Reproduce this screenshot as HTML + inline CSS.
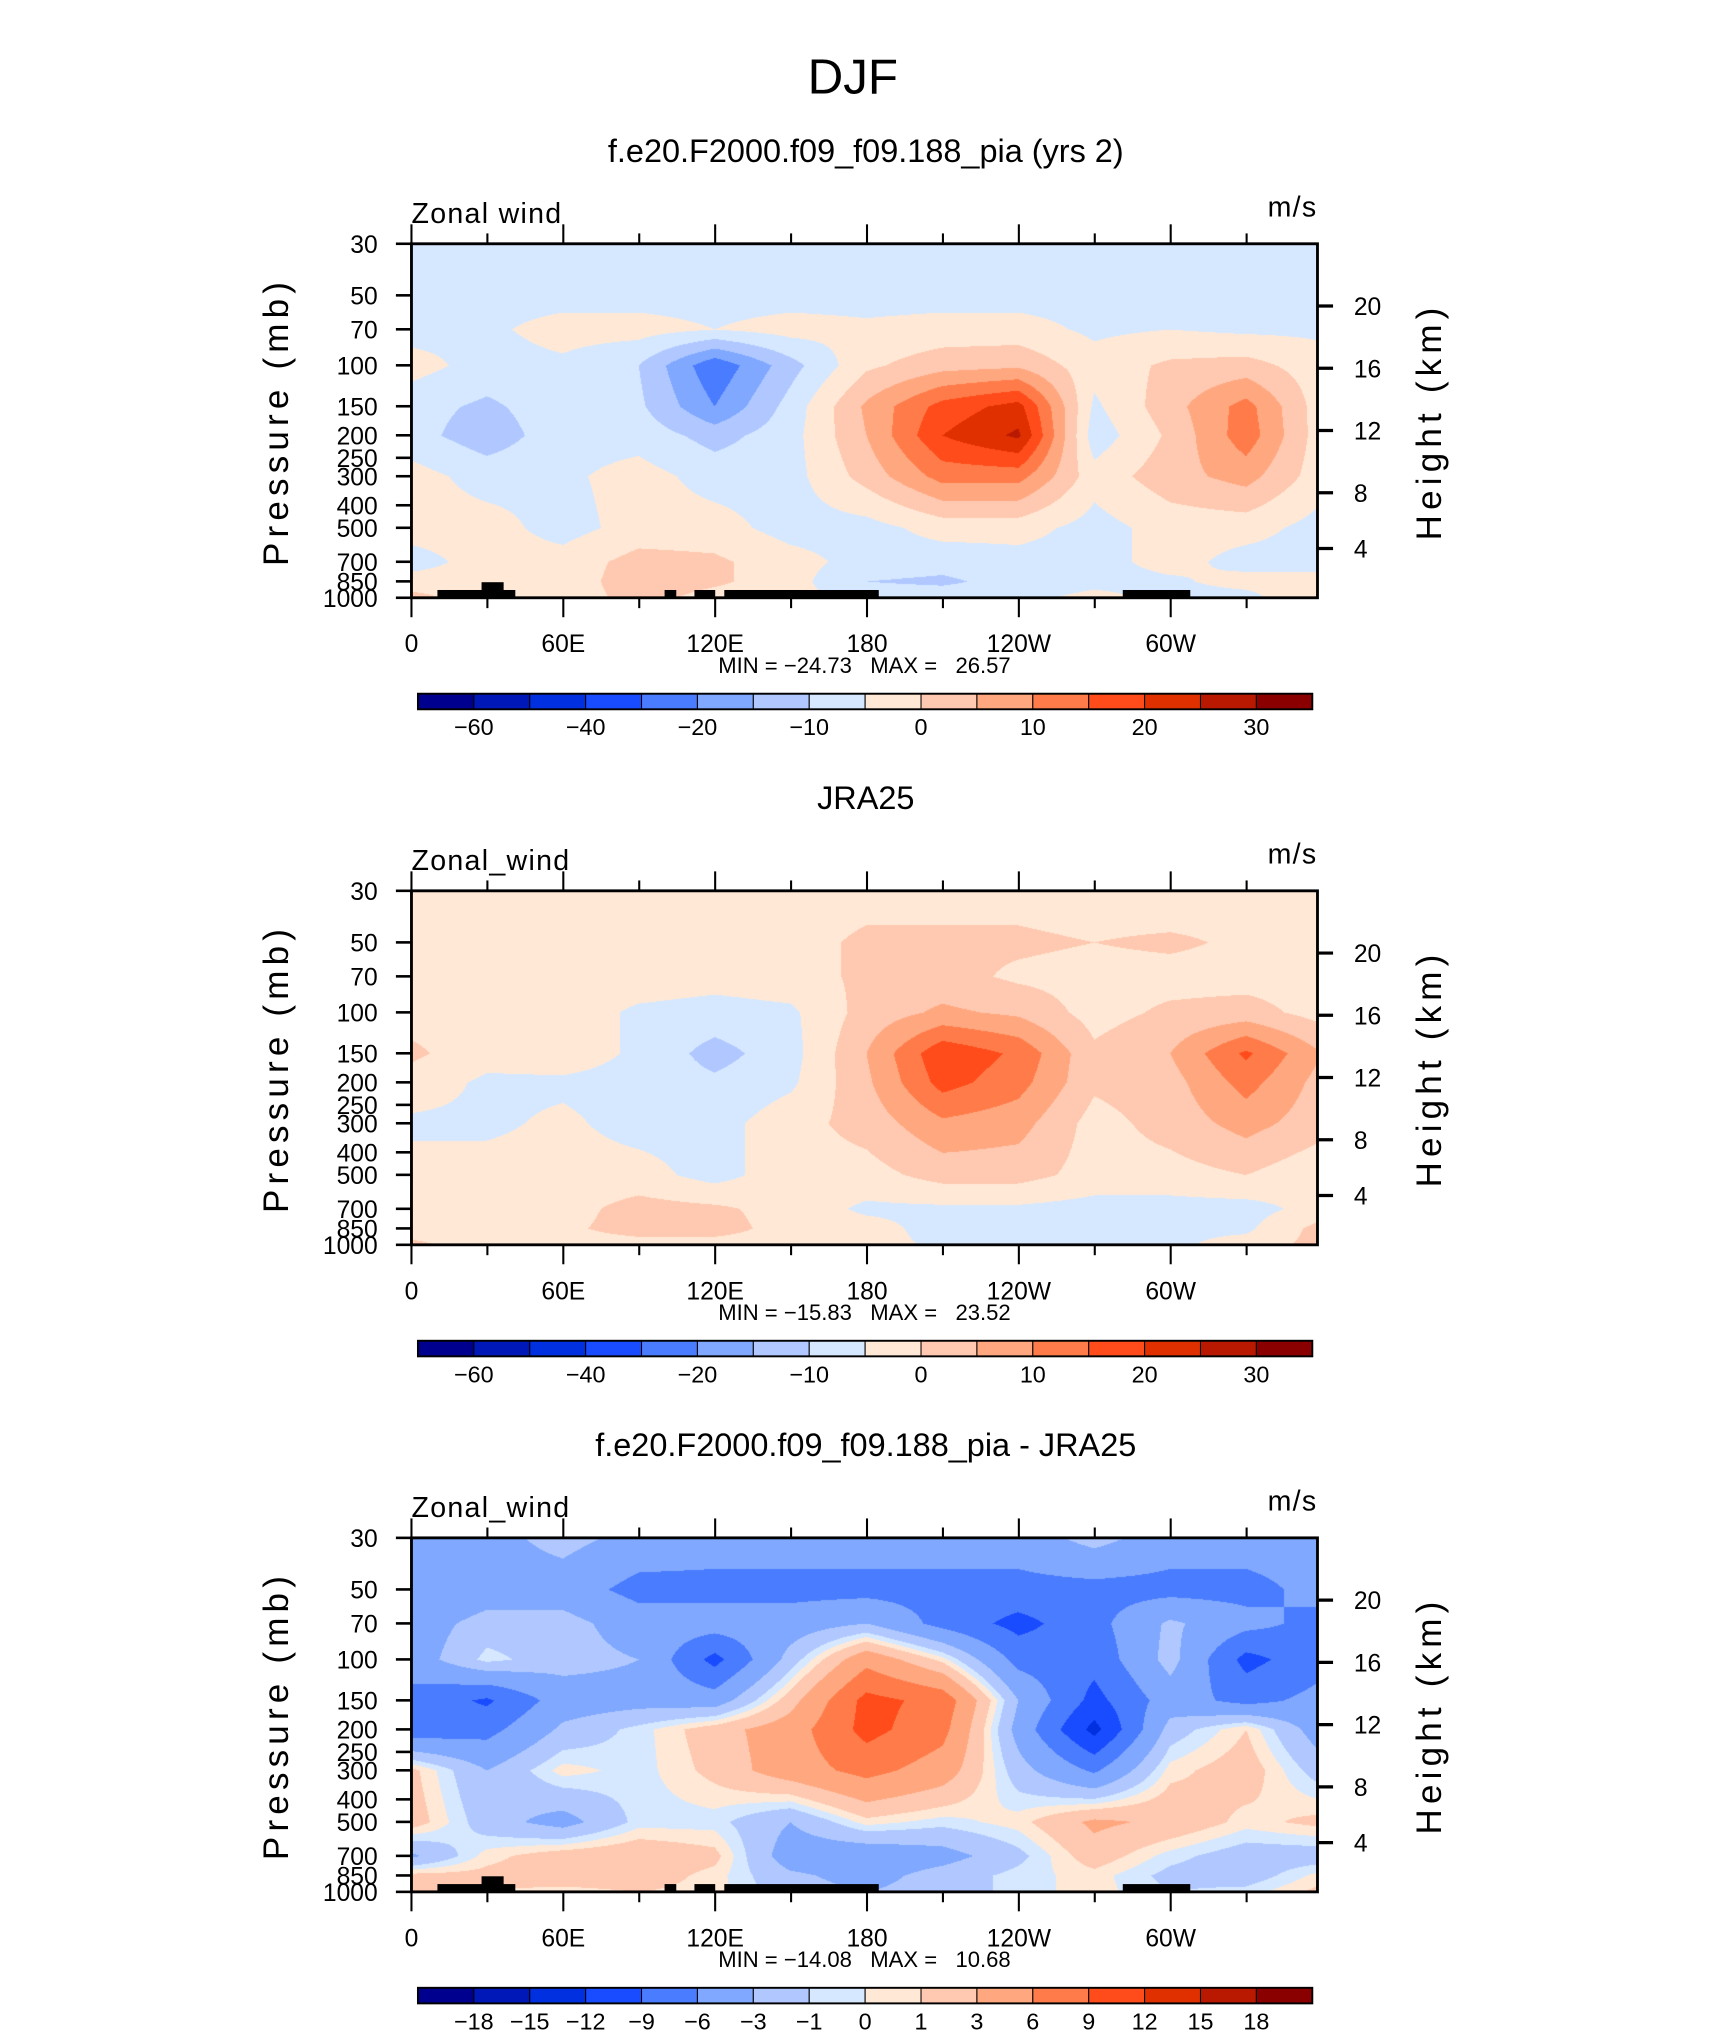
<!DOCTYPE html>
<html><head><meta charset="utf-8">
<style>
html,body{margin:0;padding:0;background:#fff;}
#root{position:relative;width:1710px;height:2038px;overflow:hidden;background:#fff;}
canvas{position:absolute;}
svg{position:absolute;left:0;top:0;}
text{font-family:"Liberation Sans Narrow","Liberation Sans",sans-serif;fill:#000;}
</style></head>
<body>
<div id="root">
<canvas id="c0"></canvas>
<canvas id="c1"></canvas>
<canvas id="c2"></canvas>
<svg id="svg" width="1710" height="2038" viewBox="0 0 1317.4 1571.7" preserveAspectRatio="none"></svg>
</div>
<script>
// ---- data ----
const lons = [0,30,60,90,120,150,180,210,240,270,300,330,360];
const pressures = [30,50,70,100,150,200,300,500,700,850,1000];
const model = [
[-7,-7,-7,-7,-7,-7,-7,-7,-7,-7,-7,-7,-7],
[-7,-7,-7,-7,-7,-7,-7,-7,-7,-7,-7,-7,-7],
[-7,-6,-3,-3,-5,-3,-4,-3,-3,-6,-5,-6,-6],
[-3,-7,-6,-10,-24,-12,-1,3,4,-3,1,2,-3],
[-8,-11,-7,-9,-20,-8,6,17,22,-6,3,12,-3],
[-8,-13,-7,-7,-12,-7,5,20,26,-8,1,13,-3],
[-3,-7,-6,-3,-7,-7,2,12,12,-3,3,7,-3],
[-3,-3,-7,-3,-3,-7,-7,-3,-3,-7,-3,-3,-7],
[-7,-3,-3,2,1,-3,-7,-8,-7,-7,-3,-7,-7],
[-3,-3,-3,3,1,-3,-10,-11,-8,-7,-6,-3,-3],
[2,-3,-3,2,-2,-3,-7,-7,-7,-3,-7,-7,1]];
const jra = [
[-2,-2,-4,-4,-4,-2,-2,-2,-2,-3,-4,-2,-2],
[-2,-2,-2,-2,-2,-2,1,1,1,0,1,-1,-2],
[-2,-2,-2,-2,-3,-2,1,2,-1,-2,-2,-2,-2],
[-2,-2,-2,-6,-7,-6,2,6,4,-2,1,2,-2],
[1,-3,-2,-6,-12,-7,5,19,14,1,5,16,5],
[-2,-6,-6,-7,-9,-6,4,17,12,1,3,12,3],
[-6,-6,-4,-7,-7,-2,2,9,7,-2,2,7,2],
[-3,-3,-3,-3,-7,-2,-2,2,2,-2,-2,0,-4],
[-2,-2,-2,2,1,-2,-6,-6,-6,-7,-7,-7,-3],
[-2,-2,-1,2,2,-2,-3,-7,-7,-6,-6,-6,2],
[1,-2,-2,-2,-2,-2,-3,-6,-6,-6,-6,-3,2]];
const diff = [
[-4.5,-4,-2,-4,-4.5,-4.5,-4.5,-4.5,-4.5,-2,-4.5,-4.5,-4.5],
[-6,-4.5,-4.5,-7,-7,-7,-7,-7,-7,-7,-7,-7,-5],
[-4.5,-2,-2,-4.5,-4.5,-4.5,-3,-7,-10,-7,-2.5,-5,-7],
[-4.5,-0.5,-2,-3,-10,-2,5,0.5,-7,-8,-2,-10,-7],
[-7,-9.5,-4.5,-4,-4.5,2,10,8,-3,-10,-4.5,-7,-5],
[-8,-7,-2.5,-0.5,2,4.5,10,7,-4,-13,-2,1,-4.5],
[1.5,-3,0.5,-0.5,1.5,4.5,7,4.5,-2,-6.5,0.5,2,-2],
[2,-2,-4,-0.5,-0.5,-3,0.5,-0.5,0.5,3.5,2.5,0.5,1.5],
[-3.5,0.5,2,2.5,1.5,-4.5,-5,-4,-1.5,2,-0.5,-2,-2],
[1.5,1.5,2,2,0.5,-2.5,-4,-2,-0.5,0.5,-1.5,-2,0.5],
[1,1,0.5,1,0.5,-2,-3,-2,-0.5,0.5,-1,-0.5,1.5]];
const levelsWind = [-60,-50,-40,-30,-20,-15,-10,-5,0,5,10,15,20,25,30];
const levelsDiff = [-18,-15,-12,-9,-6,-3,-1,0,1,3,6,9,12,15,18];
const cbLabelsWind = ["-60","","-40","","-20","","-10","","0","","10","","20","","30"];
const cbLabelsDiff = ["-18","-15","-12","-9","-6","-3","-1","0","1","3","6","9","12","15","18"];
const palette = ["#00008f","#0018b8","#0030e0","#1a4cff","#4a7cff","#80a8ff","#b0c8ff","#d6e8ff","#ffe8d6","#ffc8b0","#ffa880","#ff7c4a","#ff4c1a","#e03000","#b81900","#8a0000"];
const pLabels = [30,50,70,100,150,200,250,300,400,500,700,850,1000];
const hLabels = [20,16,12,8,4];
const hOffsets = [48,96,144,192,235];
const xTickLons = [0,30,60,90,120,150,180,210,240,270,300,330];
const xLabels = {0:"0",60:"60E",120:"120E",180:"180",240:"120W",300:"60W"};
const panels = [
 {title:"f.e20.F2000.f09_f09.188_pia (yrs 2)", left:"Zonal wind", data:model, levels:levelsWind, cb:cbLabelsWind, minmax:"MIN = \u221224.73   MAX =   26.57", topo:true},
 {title:"JRA25", left:"Zonal_wind", data:jra, levels:levelsWind, cb:cbLabelsWind, minmax:"MIN = \u221215.83   MAX =   23.52", topo:false},
 {title:"f.e20.F2000.f09_f09.188_pia - JRA25", left:"Zonal_wind", data:diff, levels:levelsDiff, cb:cbLabelsDiff, minmax:"MIN = \u221214.08   MAX =   10.68", topo:true}
];
const topoBars = [[337,397,455],[371,388,449],[512,521,455],[535,551,455],[558,677,455],[865,917,455]];

// ---- geometry (view coords) ----
const SX = 1710/1317.4, SY = 2038/1571.7;
const BX0 = 317, BX1 = 1015, BH = 273, LONMAX = 358;
const panelDY = [0,499,998];
const LN = Math.log(1000/30);
function xOf(lon){return BX0 + lon*(BX1-BX0)/LONMAX;}
function yOf(p,dy){return 188+dy+BH - BH*Math.log(1000/p)/LN;}

const NS = "http://www.w3.org/2000/svg";
const svg = document.getElementById('svg');
function mk(tag, attrs, parent){const e=document.createElementNS(NS,tag);for(const k in attrs)e.setAttribute(k,attrs[k]);(parent||svg).appendChild(e);return e;}
function txt(s,x,y,size,anchor,parent,extra){const t=mk('text',Object.assign({x:x,y:y,'font-size':size,'text-anchor':anchor||'middle'},extra||{}),parent);t.textContent=s;return t;}

function interp(data,lon,t){
  const ts = pressures.map(p=>Math.log(1000/p)/LN);
  let r=0; while(r<ts.length-2 && !(t<=ts[r] && t>=ts[r+1])) r++;
  let fr = (ts[r]-t)/(ts[r]-ts[r+1]); fr=Math.max(0,Math.min(1,fr));
  let c = Math.min(11, Math.floor(lon/30)); let fc=(lon-lons[c])/30;
  const a=data[r][c]*(1-fc)+data[r][c+1]*fc;
  const b=data[r+1][c]*(1-fc)+data[r+1][c+1]*fc;
  return a*(1-fr)+b*fr;
}
function colorIdx(v,levels){let i=0;while(i<levels.length && v>=levels[i])i++;return i;}
function hexRGB(h){return [parseInt(h.substr(1,2),16),parseInt(h.substr(3,2),16),parseInt(h.substr(5,2),16)];}
const palRGB = palette.map(hexRGB);

const djf = txt("DJF",657,72,38,'middle');


djf.setAttribute('font-family','"Liberation Sans",sans-serif');
djf.setAttribute('font-weight','300');

panels.forEach((P,pi)=>{
  const dy = panelDY[pi];
  const g = mk('g',{});
  
  
  const cv = document.getElementById('c'+pi);
  const W = Math.round((BX1-BX0)*SX), H = Math.round(BH*SY);
  cv.width=W; cv.height=H;
  cv.style.left=(BX0*SX)+'px'; cv.style.top=((188+dy)*SY)+'px';
  cv.style.width=W+'px'; cv.style.height=H+'px';
  const ctx=cv.getContext('2d'); const img=ctx.createImageData(W,H);
  for(let j=0;j<H;j++){const t=1-(j+0.5)/H;
    for(let i=0;i<W;i++){const lon=(i+0.5)/W*LONMAX;
      const v=interp(P.data,lon,t); const c=palRGB[colorIdx(v,P.levels)];
      const k=(j*W+i)*4; img.data[k]=c[0];img.data[k+1]=c[1];img.data[k+2]=c[2];img.data[k+3]=255;}}
  ctx.putImageData(img,0,0);
  const st = txt(P.title,667,125+dy,25,'middle',g,{'font-family':'"Liberation Sans",sans-serif'});
  
  
  const lt = txt(P.left,317,172+dy,22,'start',g,{'letter-spacing':'1'});
  
  
  const ut = txt("m/s",1015,167+dy,22,'end',g,{'letter-spacing':'1'});
  
  
  if(P.topo){topoBars.forEach(b=>{const r=mk('rect',{x:b[0],y:b[2]+dy,width:b[1]-b[0],height:461-b[2],fill:'#000'},g);
    
    });}
  const box=mk('rect',{x:BX0,y:188+dy,width:BX1-BX0,height:BH,fill:'none',stroke:'#000','stroke-width':2.2},g);
  
  
  xTickLons.forEach(l=>{const x=xOf(l);const major=(l%60===0);const len=major?15:8;
    mk('line',{x1:x,x2:x,y1:188+dy,y2:188+dy-len,stroke:'#000','stroke-width':1.6},g);
    mk('line',{x1:x,x2:x,y1:461+dy,y2:461+dy+len,stroke:'#000','stroke-width':1.6},g);
    if(major){const t=txt(xLabels[l],x,503+dy,19,'middle',g);
      
      }});
  pLabels.forEach(p=>{const y=yOf(p,dy);
    mk('line',{x1:BX0-12,x2:BX0,y1:y,y2:y,stroke:'#000','stroke-width':2},g);
    const t=txt(String(p),291,y+7,19,'end',g);
    
    });
  hLabels.forEach((h,k)=>{const y=188+dy+hOffsets[k];
    mk('line',{x1:BX1,x2:BX1+12,y1:y,y2:y,stroke:'#000','stroke-width':2.5},g);
    const t=txt(String(h),1043,y+7,19,'start',g);
    
    });
  const ya=txt("Pressure (mb)",0,0,27,'middle',g,{transform:`translate(222,${325+dy}) rotate(-90)`,'letter-spacing':'4','font-family':'"Liberation Sans",sans-serif'});
  
  
  const ha=txt("Height (km)",0,0,27,'middle',g,{transform:`translate(1110,${325+dy}) rotate(-90)`,'letter-spacing':'4','font-family':'"Liberation Sans",sans-serif'});
  
  
  const mm=txt(P.minmax,666,519+dy,17,'middle',g,{style:'white-space:pre'});
  
  
  const cbW=(1011-322)/16;
  palette.forEach((c,i)=>{const r=mk('rect',{x:322+i*cbW,y:535+dy,width:cbW,height:12,fill:c,stroke:'#000','stroke-width':0.8},g);
    
    });
  mk('rect',{x:322,y:535+dy,width:1011-322,height:12,fill:'none',stroke:'#000','stroke-width':1.5},g);
  P.cb.forEach((s,i)=>{if(!s)return;const t=txt(s.replace('-','\u2212'),322+(i+1)*cbW,567+dy,18,'middle',g);
    
    });
});
</script>
</body></html>
